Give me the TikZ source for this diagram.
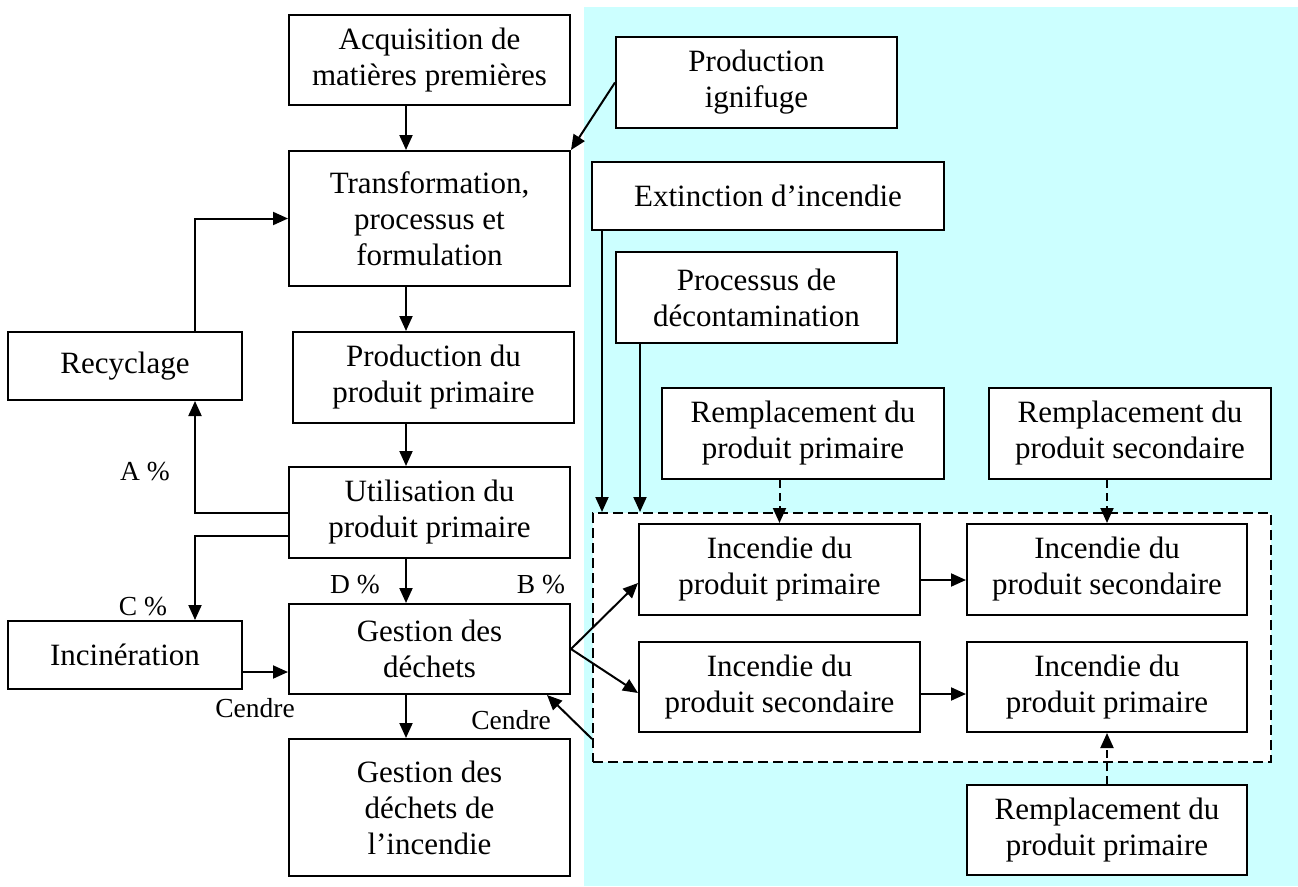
\documentclass[tikz,border=0pt]{standalone}
\usepackage{fontspec}
\setmainfont{Liberation Serif}
\usetikzlibrary{arrows.meta}
\definecolor{pale}{RGB}{204,255,255}
\begin{document}
\begin{tikzpicture}
        [
            x=1pt, y=-1pt,
            block/.style={rectangle, draw=black, line width=2pt, fill=white, align=center, inner sep=0pt, font=\fontsize{31}{36}\selectfont},
            lbl/.style={inner sep=0pt, font=\fontsize{27.5}{30}\selectfont},
            arr/.style={-{Triangle[length=15pt,width=13pt]}, line width=2pt},
            darr/.style={arr, dash pattern=on 8pt off 5pt}
        ]
        \useasboundingbox (0,0) rectangle (1298,886);
        % fond
        \fill[pale] (584,7) rectangle (1298,886);
        \coordinate (spine) at (406,0);
        \coordinate (loop) at (195,0);
        \coordinate (extx) at (602,0);
        \coordinate (decx) at (640,0);
        % cycle de vie
        \node[block, minimum width=281pt, minimum height=90pt] (acq) at (429.5,60) {Acquisition de\\matières premières};
        \node[block, minimum width=281pt, minimum height=135pt] (trans) at (429.5,218.5) {Transformation,\\processus et\\formulation};
        \node[block, minimum width=281pt, minimum height=91pt] (prodp) at (433.5,377.5) {Production du\\produit primaire};
        \node[block, minimum width=281pt, minimum height=91pt] (util) at (429.5,512.5) {Utilisation du\\produit primaire};
        \node[block, minimum width=281pt, minimum height=90pt] (gest) at (429.5,649) {Gestion des\\déchets};
        \node[block, minimum width=281pt, minimum height=137pt] (gestinc) at (429.5,807.5) {Gestion des\\déchets de\\l’incendie};
        \node[block, minimum width=234pt, minimum height=68pt] (recyc) at (125,366) {Recyclage};
        \node[block, minimum width=234pt, minimum height=68pt] (incin) at (125,655) {Incinération};
        % intrants
        \node[block, minimum width=281pt, minimum height=91pt] (ign) at (756.5,82.5) {Production\\ignifuge};
        \node[block, minimum width=352pt, minimum height=68pt] (ext) at (768,196) {Extinction d’incendie};
        \node[block, minimum width=281pt, minimum height=91pt] (decon) at (756.5,297.5) {Processus de\\décontamination};
        \node[block, minimum width=282pt, minimum height=91pt] (rempA) at (803,433.5) {Remplacement du\\produit primaire};
        \node[block, minimum width=282pt, minimum height=91pt] (rempB) at (1130,433.5) {Remplacement du\\produit secondaire};
        \node[block, minimum width=280pt, minimum height=90pt] (rempC) at (1107,830) {Remplacement du\\produit primaire};
        % incendies
        \node[draw, fill=white, line width=2pt, dash pattern=on 10pt off 5pt, inner sep=0pt, minimum width=678pt, minimum height=249pt] (zone) at (932,637.5) {};
        \node[block, minimum width=281pt, minimum height=91pt] (fireA) at (779.5,569.5) {Incendie du\\produit primaire};
        \node[block, minimum width=281pt, minimum height=90pt] (fireB) at (779.5,687) {Incendie du\\produit secondaire};
        \node[block, minimum width=280pt, minimum height=91pt] (fireC) at (1107,569.5) {Incendie du\\produit secondaire};
        \node[block, minimum width=280pt, minimum height=90pt] (fireD) at (1107,687) {Incendie du\\produit primaire};
        % pourcentages
        \node[lbl] (pa) at (145,472) {A \%};
        \node[lbl] (pc) at (143,607) {C \%};
        \node[lbl] (pd) at (355,585) {D \%};
        \node[lbl] (pb) at (541,585) {B \%};
        \node[lbl] (ash1) at (255,708) {Cendre};
        \node[lbl] (ash2) at (511,720) {Cendre};
        % fleches
        \draw[arr] (acq.south -| spine) -- (trans.north -| spine);
        \draw[arr] (ign.west) -- (trans.north east);
        \draw[arr] (recyc.north -| loop) |- (trans.west);
        \draw[arr] (trans.south -| spine) -- (prodp.north -| spine);
        \draw[arr] (prodp.south -| spine) -- (util.north -| spine);
        \draw[arr] (util.west) -| (recyc.south -| loop);
        \draw[arr] ([yshift=-23.5pt]util.west) -| (incin.north -| loop);
        \draw[arr] (util.south -| spine) -- (gest.north -| spine);
        \draw[arr] ([yshift=-17pt]incin.east) coordinate (ashout) -- (ashout -| gest.west);
        \draw[arr] (gest.south -| spine) -- (gestinc.north -| spine);
        \draw[arr] (gest.east) -- ([yshift=-13.5pt]fireA.west);
        \draw[arr] (gest.east) -- ([yshift=-6pt]fireB.west);
        \draw[arr] ([yshift=24pt]zone.south west) -- ([xshift=-24pt]gest.south east);
        \draw[arr] (ext.south -| extx) -- (zone.north -| extx);
        \draw[arr] (decon.south -| decx) -- (zone.north -| decx);
        \draw[darr] (rempA.south -| fireA.north) -- (fireA.north);
        \draw[darr] (rempB.south -| fireC.north) -- (fireC.north);
        \draw[arr] ([yshift=-10.5pt]fireA.east) coordinate (f1) -- (f1 -| fireC.west);
        \draw[arr] ([yshift=-7pt]fireB.east) coordinate (f2) -- (f2 -| fireD.west);
        \draw[darr] (rempC.north -| fireD.south) -- (fireD.south);
    \end{tikzpicture}
\end{document}
